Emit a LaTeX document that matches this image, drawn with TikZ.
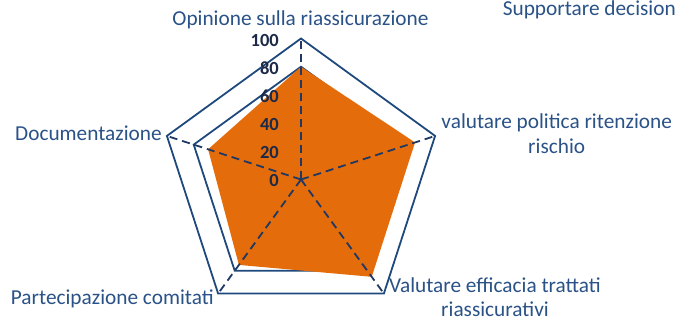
\documentclass[tikz,border=0pt]{standalone}
\usepackage{fontspec}
\setmainfont{Carlito}
\usetikzlibrary{calc}
\definecolor{gridnavy}{HTML}{1F497D}
\definecolor{spokenavy}{HTML}{1F3864}
\definecolor{ticknavy}{HTML}{1C2A48}
\definecolor{labnavy}{HTML}{2A5287}
\definecolor{fillorange}{HTML}{E46C0A}
\tikzset{
  gridline/.style={draw=gridnavy, line width=1.8pt, line join=miter},
  spoke/.style={draw=spokenavy, line width=1.8pt, dash pattern=on 8pt off 5pt},
  ticklab/.style={font=\fontsize{18.5}{20}\selectfont\bfseries, text=ticknavy, anchor=east, inner sep=0pt},
  catlab/.style={font=\fontsize{21.3}{24.5}\selectfont, text=labnavy, inner sep=0pt, align=center},
}
\begin{document}
\begin{tikzpicture}[x=1pt,y=1pt]
\useasboundingbox (0,-323) rectangle (677,0);
\coordinate (c) at (301,-179.5);
% axis vertices at 100 and 80
\foreach \n/\a in {A/90,B/18,C/-54,D/-126,E/162}{
  \coordinate (\n) at ($(c)+(\a:141)$);
  \coordinate (\n8) at ($(c)+(\a:112.8)$);
}
% grid pentagons
\draw[gridline] (A) -- (B) -- (C) -- (D) -- (E) -- cycle;
\draw[gridline] (A8) -- (B8) -- (C8) -- (D8) -- (E8) -- cycle;
% data
\fill[fillorange] ($(c)+(90:112.8)$) coordinate (dA) -- ($(c)+(18:119.9)$) coordinate (dB)
  -- ($(c)+(-54:120.3)$) coordinate (dC) -- ($(c)+(-126:105.6)$) coordinate (dD)
  -- ($(c)+(162:97.7)$) coordinate (dE) -- cycle;
% spokes
\foreach \n in {A,B,C,D,E}{ \draw[spoke] (c) -- (\n); }
% tick labels
\node[ticklab] (t100) at (279,-40.7) {100};
\node[ticklab] (t80) at (279,-68.6) {80};
\node[ticklab] (t60) at (279,-96.4) {60};
\node[ticklab] (t40) at (279,-124.3) {40};
\node[ticklab] (t20) at (279,-152.1) {20};
\node[ticklab] (t0) at (279,-180) {0};
% category labels
\node[catlab, anchor=base] (lA) at (300.5,-26) {Opinione sulla riassicurazione};
\node[catlab, anchor=base east] (lS) at (676,-15.2) {Supportare decision};
\node[catlab, anchor=base] (lB) at (556.7,-153.3) {valutare politica ritenzione\\rischio};
\node[catlab, anchor=base west] (lE) at (15,-141) {Documentazione};
\node[catlab, anchor=base west] (lD) at (10.7,-304.3) {Partecipazione comitati};
\node[catlab, anchor=base] (lC) at (495,-316.7) {Valutare efficacia trattati\\riassicurativi};
\end{tikzpicture}
\end{document}
